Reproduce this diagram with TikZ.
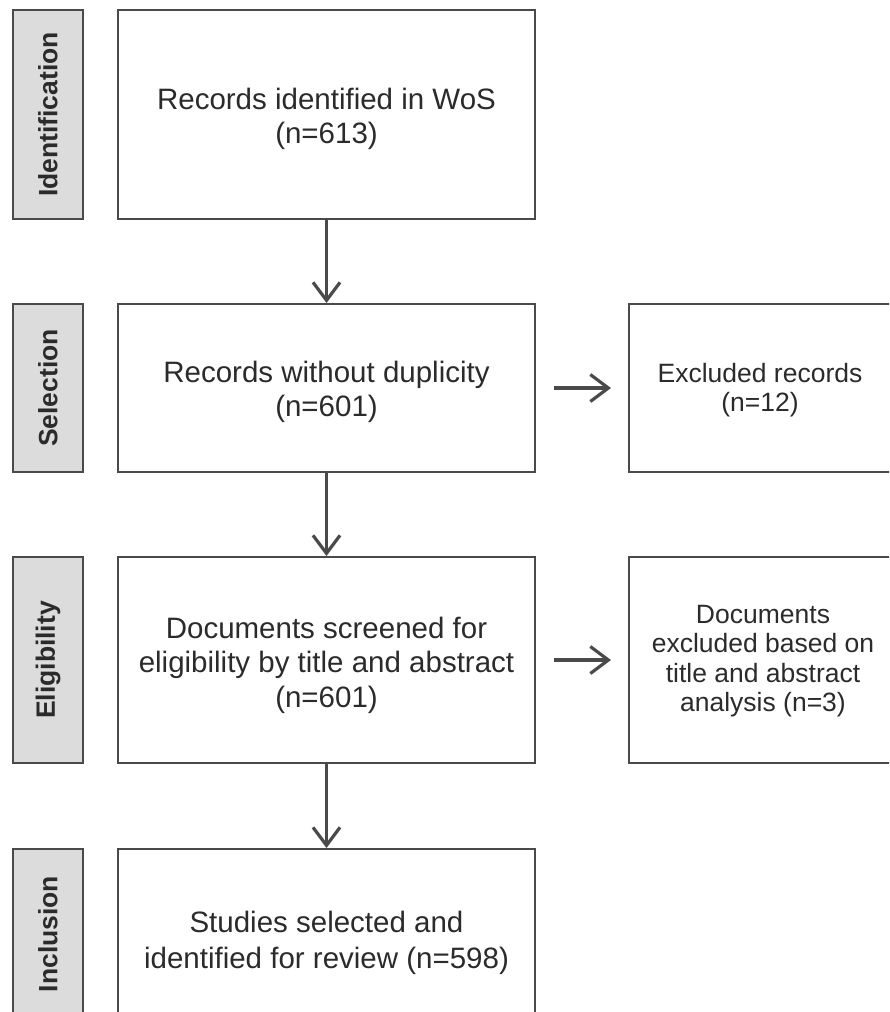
\documentclass[tikz,border=0pt]{standalone}
\usepackage{fontspec}
\setmainfont{Liberation Sans}
\usetikzlibrary{arrows.meta}
\definecolor{edge}{HTML}{4A4A4A}
\definecolor{txt}{HTML}{2B2B2B}
\definecolor{lab}{HTML}{DCDCDC}
\tikzset{
  mainbox/.style={draw=edge, line width=2pt, fill=white, inner sep=0pt},
  sidebox/.style={draw=edge, line width=2pt, fill=white, inner sep=0pt},
  labelbox/.style={draw=edge, line width=2.2pt, fill=lab, inner sep=0pt, rotate=90,
     font=\fontsize{26.5}{30}\selectfont\bfseries, text=txt},
  maintext/.style={align=center, text=txt, font=\fontsize{29.5}{34.5}\selectfont, inner sep=0pt},
  sidetext/.style={align=center, text=txt, font=\fontsize{26.5}{29.5}\selectfont, inner sep=0pt},
  arr/.style={draw=edge, line width=3.2pt, -{Straight Barb[length=18pt,width=27pt,line width=3.2pt]}}
}
\begin{document}
\begin{tikzpicture}[x=1pt,y=-1pt]
\useasboundingbox (0,0) rectangle (889,1012);
\clip (0,0) rectangle (889,1012);
% label boxes
\node[labelbox, minimum width=209pt, minimum height=70pt] (l1) at (48,114.5) {Identification};
\node[labelbox, minimum width=168pt, minimum height=70pt] (l2) at (48,388) {Selection};
\node[labelbox, minimum width=206pt, minimum height=70pt] (l3) at (48,660) {Eligibility};
\node[labelbox, minimum width=170pt, minimum height=70pt] (l4) at (48,934) {Inclusion};
% main boxes
\node[mainbox, minimum width=417pt, minimum height=209pt] (b1) at (326.5,114.5) {};
\node[mainbox, minimum width=417pt, minimum height=168pt] (b2) at (326.5,388) {};
\node[mainbox, minimum width=417pt, minimum height=206pt] (b3) at (326.5,660) {};
\node[mainbox, minimum width=417pt, minimum height=182pt] (b4) at (326.5,940) {};
% side boxes
\node[sidebox, minimum width=264pt, minimum height=168pt] (r2) at (761,388) {};
\node[sidebox, minimum width=264pt, minimum height=206pt] (r3) at (761,660) {};
% texts
\node[maintext] (t1) at (326.5,119) {Records identified in WoS\\(n=613)};
\node[maintext] (t2) at (326.5,392) {Records without duplicity\\(n=601)};
\node[maintext] (t3) at (326.5,665) {Documents screened for\\eligibility by title and abstract\\(n=601)};
\node[maintext, font=\fontsize{29.5}{36}\selectfont] (t4) at (326.5,943) {Studies selected and\\identified for review (n=598)};
\node[sidetext] (s2) at (760,390) {Excluded records\\(n=12)};
\node[sidetext] (s3) at (763,661) {Documents\\excluded based on\\title and abstract\\analysis (n=3)};
% arrows
\draw[arr] (b1) -- (b2);
\draw[arr] (b2) -- (b3);
\draw[arr] (b3) -- (b4);
\draw[arr, shorten <=18pt, shorten >=17pt] (b2.east) -- (b2.east -| r2.west);
\draw[arr, shorten <=18pt, shorten >=17pt] (b3.east) -- (b3.east -| r3.west);
\end{tikzpicture}
\end{document}
